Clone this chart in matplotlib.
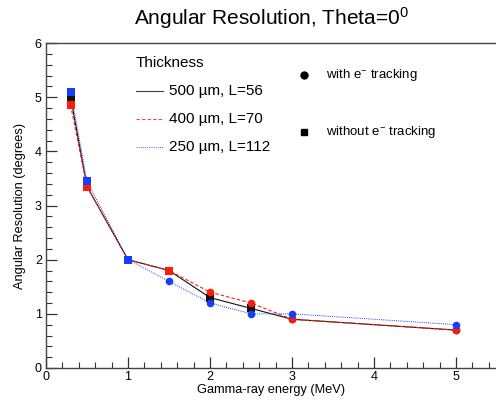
import matplotlib
matplotlib.use("Agg")
import matplotlib.pyplot as plt
from matplotlib.ticker import MultipleLocator

plt.rcParams['font.family'] = ['Liberation Sans', 'DejaVu Sans']
plt.rcParams['mathtext.fontset'] = 'custom'
plt.rcParams['mathtext.rm'] = 'Liberation Sans'
plt.rcParams['mathtext.it'] = 'Liberation Sans'

# Gamma-ray energy (MeV)
energy = [0.3, 0.5, 1.0, 1.5, 2.0, 2.5, 3.0, 5.0]

# Angular resolution (degrees) per thickness
res_500 = [5.0, 3.35, 2.0, 1.8, 1.3, 1.1, 0.9, 0.7]
res_400 = [4.85, 3.35, 2.0, 1.8, 1.4, 1.2, 0.9, 0.7]
res_250 = [5.1, 3.45, 2.0, 1.6, 1.2, 1.0, 1.0, 0.8]

# True = with e- tracking (circle), False = without (square)
track_500 = [False, False, False, False, False, False, True, True]
track_400 = [False, False, False, False, True, True, True, True]
track_250 = [False, False, False, True, True, True, True, True]

series = [
    ("500 µm, L=56", res_500, track_500, "#111111", "-", 0.8),
    ("400 µm, L=70", res_400, track_400, "#ff1a0a", (0, (3, 2)), 0.8),
    ("250 µm, L=112", res_250, track_250, "#1a3cff", (0, (1, 1.2)), 0.7),
]

fig = plt.figure(figsize=(4.96, 4.05), dpi=100)
ax = fig.add_axes([46 / 496, 37 / 405, 451 / 496, 325 / 405])

for label, vals, track, col, ls, lw in series:
    ax.plot(energy, vals, color=col, linestyle=ls, linewidth=lw, zorder=2)
    xs_c = [e for e, t in zip(energy, track) if t]
    ys_c = [v for v, t in zip(vals, track) if t]
    xs_s = [e for e, t in zip(energy, track) if not t]
    ys_s = [v for v, t in zip(vals, track) if not t]
    ax.plot(xs_c, ys_c, 'o', color=col, markersize=5.5, markeredgewidth=0, zorder=3)
    ax.plot(xs_s, ys_s, 's', color=col, markersize=5.5, markeredgewidth=0, zorder=3)

ax.set_xlim(0, 5.5)
ax.set_ylim(0, 6)
ax.xaxis.set_major_locator(MultipleLocator(1))
ax.xaxis.set_minor_locator(MultipleLocator(0.2))
ax.yaxis.set_major_locator(MultipleLocator(1))
ax.yaxis.set_minor_locator(MultipleLocator(0.2))
ax.tick_params(which='both', direction='in', top=False, right=False,
               colors='#333333', labelcolor='black', labelsize=9)
ax.tick_params(which='major', length=8, width=0.9)
ax.tick_params(which='minor', length=4, width=0.8)
ax.tick_params(axis='y', pad=3)
ax.tick_params(axis='x', pad=2)
for s in ax.spines.values():
    s.set_color('#444444')
    s.set_linewidth(1.0)

ax.set_xlabel("Gamma-ray energy (MeV)", fontsize=9.2, labelpad=1)
ax.set_ylabel("Angular Resolution (degrees)", fontsize=9.2, labelpad=6)

fig.text(0.548, 0.955, r"Angular Resolution, Theta=0$^{0}$", ha='center', va='center',
         fontsize=15)

# Thickness legend
ax.text(0.1996, 0.9385, "Thickness", transform=ax.transAxes, fontsize=11,
        ha='left', va='center')
leg_y = [0.8523, 0.7662, 0.68]
for (label, vals, track, col, ls, lw), y in zip(series, leg_y):
    ax.plot([0.1996, 0.2594], [y, y], color=col, linestyle=ls, linewidth=lw,
            alpha=0.8, transform=ax.transAxes, clip_on=False)
    ax.text(0.2727, y, label, transform=ax.transAxes, fontsize=11,
            ha='left', va='center')

# Marker legend
ax.plot([0.572], [0.9015], 'o', color='black', markersize=5, transform=ax.transAxes)
ax.text(0.6208, 0.9015, r"with e$^{-}$ tracking", transform=ax.transAxes,
        fontsize=9.5, ha='left', va='center')
ax.plot([0.572], [0.7262], 's', color='black', markersize=5, transform=ax.transAxes)
ax.text(0.6208, 0.7262, r"without e$^{-}$ tracking", transform=ax.transAxes,
        fontsize=9.5, ha='left', va='center')

fig.savefig("out.png", dpi=100)
